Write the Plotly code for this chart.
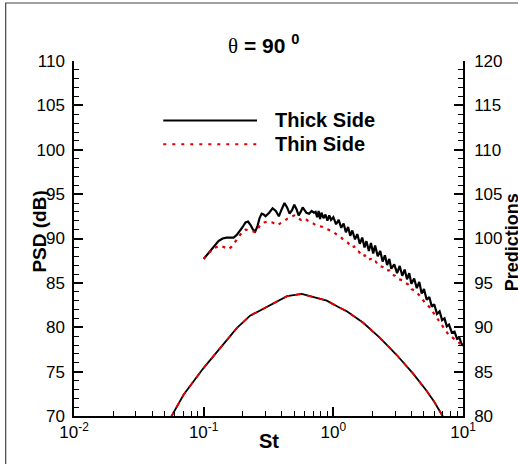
import plotly.graph_objects as go

# Measured spectra (St, PSD dB)
st_thick = [0.100, 0.110, 0.120, 0.130, 0.140, 0.150, 0.160, 0.170, 0.180, 0.190,
            0.200, 0.210, 0.220, 0.230, 0.240, 0.250, 0.260, 0.270, 0.280, 0.290,
            0.300, 0.320, 0.340, 0.360, 0.380, 0.400, 0.420, 0.440, 0.460, 0.480,
            0.500, 0.520, 0.540, 0.560, 0.580, 0.600, 0.620, 0.650, 0.680, 0.710,
            0.730, 0.750, 0.770, 0.790, 0.810, 0.840, 0.870, 0.900, 0.930, 0.960,
            1.00, 1.05, 1.10, 1.15, 1.20, 1.25, 1.30, 1.35, 1.40, 1.47,
            1.53, 1.60, 1.67, 1.74, 1.80, 1.88, 1.95, 2.03, 2.10, 2.20,
            2.30, 2.40, 2.50, 2.60, 2.70, 2.80, 2.95, 3.10, 3.25, 3.40,
            3.55, 3.70, 3.85, 4.00, 4.20, 4.40, 4.60, 4.80, 5.00, 5.25,
            5.50, 5.75, 6.00, 6.30, 6.60, 6.90, 7.20, 7.50, 7.80, 8.20,
            8.60, 9.00, 9.40, 9.70, 10.0]
psd_thick = [87.7, 88.4, 89.1, 89.7, 90.0, 90.1, 90.1, 90.1, 90.4, 90.8,
             91.3, 91.8, 91.9, 91.5, 91.0, 90.8, 91.4, 92.3, 92.8, 92.7,
             92.5, 92.9, 93.4, 93.1, 92.5, 93.3, 94.0, 93.5, 92.8, 93.2,
             93.8, 93.3, 92.6, 93.0, 93.5, 93.2, 92.9, 92.8, 93.1, 92.9,
             93.0, 92.4, 93.1, 92.2, 92.9, 92.3, 92.7, 92.0, 92.6, 92.1,
             92.4, 91.6, 92.1, 91.2, 91.7, 90.7, 91.3, 90.3, 90.9, 89.9,
             90.5, 89.4, 90.1, 89.0, 89.7, 88.6, 89.5, 88.3, 89.2, 88.0,
             88.6, 87.4, 88.1, 87.0, 87.7, 86.6, 87.1, 86.1, 86.9, 85.8,
             86.5, 85.4, 86.1, 84.9, 85.5, 84.4, 85.1, 83.8, 84.3, 83.1,
             83.4, 82.3, 82.6, 81.5, 81.8, 80.8, 81.0, 80.1, 80.3, 79.4,
             79.5, 78.7, 78.8, 78.2, 77.9]

st_thin = [0.100, 0.110, 0.120, 0.133, 0.145, 0.155, 0.165, 0.175, 0.190, 0.200,
           0.210, 0.230, 0.250, 0.270, 0.290, 0.310, 0.340, 0.370, 0.400, 0.430,
           0.460, 0.500, 0.530, 0.560, 0.600, 0.650, 0.700, 0.730, 0.780, 0.830,
           0.880, 0.940, 0.990, 1.05, 1.10, 1.14, 1.20, 1.25, 1.30, 1.38,
           1.45, 1.52, 1.58, 1.66, 1.75, 1.85, 1.95, 2.05, 2.12, 2.25,
           2.40, 2.55, 2.70, 2.85, 3.00, 3.20, 3.40, 3.60, 3.80, 4.00,
           4.30, 4.60, 4.90, 5.20, 5.50, 5.80, 6.20, 6.60, 7.00, 7.30,
           7.70, 8.20, 8.70, 9.20, 9.60, 10.0]
psd_thin = [87.7, 88.4, 88.9, 89.2, 89.0, 88.8, 89.1, 89.6, 90.4, 90.8,
            91.0, 90.9, 90.7, 91.4, 91.8, 91.9, 91.8, 91.5, 91.8, 92.1,
            92.4, 92.6, 92.3, 92.1, 92.3, 91.9, 91.7, 91.5, 91.4, 91.3,
            91.1, 90.9, 90.8, 90.5, 90.3, 90.2, 89.8, 89.6, 89.5, 89.0,
            89.1, 88.6, 88.5, 88.0, 88.1, 87.6, 87.7, 87.3, 87.4, 86.9,
            86.8, 86.4, 86.4, 85.9, 85.8, 85.4, 85.3, 85.0, 84.8, 84.3,
            84.1, 83.6, 83.1, 82.6, 82.3, 81.8, 81.2, 80.6, 80.1, 79.7,
            79.2, 78.9, 78.6, 78.3, 78.1, 77.6]

# Predictions (St, right-axis dB)
st_pred = [0.050, 0.0569, 0.070, 0.0997, 0.126, 0.18, 0.228, 0.324, 0.44, 0.57,
           0.74, 0.89, 1.12, 1.27, 1.70, 2.29, 3.07, 4.11, 5.2, 6.0, 6.96, 7.6]
psd_pred = [78.6, 80.0, 82.4, 85.4, 87.2, 89.9, 91.3, 92.5, 93.5, 93.75,
            93.3, 93.0, 92.2, 91.8, 90.5, 88.8, 86.9, 84.8, 82.9, 81.6, 80.0, 78.8]

legend_names = ["Thick Side", "Thin Side"]
x_tickvals = [0.01, 0.1, 1, 10]
x_ticktext = ["10<sup>-2</sup>", "10<sup>-1</sup>", "10<sup>0</sup>", "10<sup>1</sup>"]

FONT = "Liberation Sans"
BL, BR, BT, BB = 73.5, 463.5, 61.0, 416.0
W, H = 518, 464


def px(x):
    return (x - BL) / (BR - BL)


def py(y):
    return (BB - y) / (BB - BT)


fig = go.Figure()
fig.add_trace(go.Scatter(x=st_pred, y=psd_pred, yaxis="y2", mode="lines",
                         line=dict(color="black", width=1.8), showlegend=False))
fig.add_trace(go.Scatter(x=st_pred, y=psd_pred, yaxis="y2", mode="lines",
                         line=dict(color="#e00000", width=1.8, dash="6px,6px"),
                         showlegend=False))
fig.add_trace(go.Scatter(x=st_thick, y=psd_thick, mode="lines", name=legend_names[0],
                         line=dict(color="black", width=2.2), showlegend=False))
fig.add_trace(go.Scatter(x=st_thin, y=psd_thin, mode="lines", name=legend_names[1],
                         line=dict(color="#e00000", width=2.2, dash="3px,5px"),
                         showlegend=False))

shapes = [
    # legend samples
    dict(type="line", xref="paper", yref="paper", x0=px(163), x1=px(257),
         y0=py(120.5), y1=py(120.5), line=dict(color="black", width=2)),
    dict(type="line", xref="paper", yref="paper", x0=px(163), x1=px(257),
         y0=py(144.3), y1=py(144.3), line=dict(color="#e00000", width=2, dash="3px,6px")),
    # outer frame
    dict(type="rect", xref="paper", yref="paper", x0=px(5), x1=px(W + 20),
         y0=py(3), y1=py(H + 20), line=dict(color="#444", width=1.2)),
]

annotations = [
    dict(xref="paper", yref="paper", x=px(273), y=py(120), xanchor="left", yanchor="middle",
         text="<b>" + legend_names[0] + "</b>", showarrow=False,
         font=dict(family=FONT, size=20, color="black")),
    dict(xref="paper", yref="paper", x=px(273), y=py(144), xanchor="left", yanchor="middle",
         text="<b>" + legend_names[1] + "</b>", showarrow=False,
         font=dict(family=FONT, size=20, color="black")),
    dict(xref="paper", yref="paper", x=px(263), y=py(44), xanchor="center", yanchor="middle",
         text="<span style='font-family:Liberation Serif'>θ</span> <b>= 90 <sup>0</sup></b>",
         showarrow=False, font=dict(family=FONT, size=21, color="black")),
    dict(xref="paper", yref="paper", x=px(513), y=py(242), xanchor="center", yanchor="middle",
         text="<b>Predictions</b>", textangle=-90, showarrow=False,
         font=dict(family=FONT, size=18, color="black")),
    dict(xref="paper", yref="paper", x=px(38), y=py(232), xanchor="center", yanchor="middle",
         text="<b>PSD (dB)</b>", textangle=-90, showarrow=False,
         font=dict(family=FONT, size=19, color="black")),
    dict(xref="paper", yref="paper", x=px(269), y=py(441), xanchor="center", yanchor="middle",
         text="<b>St</b>", showarrow=False,
         font=dict(family=FONT, size=20, color="black")),
]

fig.update_layout(
    width=W, height=H,
    margin=dict(l=BL, r=W - BR, t=BT, b=H - BB, pad=0),
    paper_bgcolor="white", plot_bgcolor="white",
    font=dict(family=FONT, size=17, color="black"),
    showlegend=False,
    shapes=shapes,
    annotations=annotations,
    xaxis=dict(type="log", range=[-2, 1], tickvals=x_tickvals, ticktext=x_ticktext,
               showgrid=False, zeroline=False, showline=True, linecolor="black", linewidth=1.5,
               ticks="inside", ticklen=9, tickwidth=1.5, tickcolor="black",
               minor=dict(ticks="inside", ticklen=5, tickwidth=1, tickcolor="black",
                          dtick="D1", showgrid=False),
               tickfont=dict(family=FONT, size=17), ticklabelstandoff=0, mirror=False),
    yaxis=dict(range=[70, 110], dtick=5, showgrid=False, zeroline=False,
               showline=True, linecolor="black", linewidth=1.5,
               ticks="inside", ticklen=9, tickwidth=1.5, tickcolor="black",
               minor=dict(ticks="inside", ticklen=5, tickwidth=1, tickcolor="black",
                          dtick=1, showgrid=False),
               tickfont=dict(family=FONT, size=17), ticklabelstandoff=4),
    yaxis2=dict(range=[80, 120], dtick=5, overlaying="y", side="right",
                showgrid=False, zeroline=False,
                showline=True, linecolor="black", linewidth=1.5,
                ticks="inside", ticklen=9, tickwidth=1.5, tickcolor="black",
                minor=dict(ticks="inside", ticklen=5, tickwidth=1, tickcolor="black",
                           dtick=1, showgrid=False),
                tickfont=dict(family=FONT, size=17), ticklabelstandoff=6),
)

fig.write_html("out.html", config={"displayModeBar": False},
               post_script="document.body.style.margin='0';document.body.style.padding='0';")
